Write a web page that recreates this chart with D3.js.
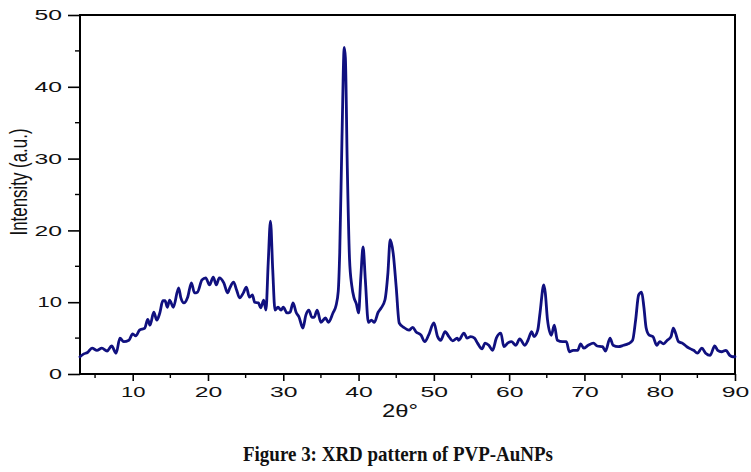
<!DOCTYPE html>
<html>
<head>
<meta charset="utf-8">
<script src="https://cdn.jsdelivr.net/npm/d3@7"></script>
<style>
  html, body { margin: 0; padding: 0; background: #fff; }
  svg { display: block; }
</style>
</head>
<body>
<svg id="chart" width="751" height="472"></svg>
<script>
const twoTheta = [3.0,3.5,4.0,4.6,5.25,5.9,6.6,7.2,7.8,8.3,8.8,9.5,10.0,10.4,10.9,11.6,12.0,12.3,12.8,13.2,13.6,14.0,14.3,14.6,14.9,15.4,16.1,16.4,16.8,17.3,17.8,18.2,18.6,19.2,19.7,20.2,20.7,21.1,21.5,22.1,22.6,22.9,23.4,23.8,24.2,24.7,25.1,25.5,25.9,26.2,26.7,27.0,27.4,27.7,28.0,28.3,28.6,28.9,29.3,29.7,30.0,30.5,30.9,31.3,31.7,32.1,32.6,33.0,33.4,33.8,34.1,34.5,35.0,35.6,36.0,36.6,37.0,37.3,37.5,37.8,38.1,38.25,38.5,38.8,39.1,39.4,39.7,40.0,40.3,40.6,40.9,41.3,41.7,42.1,42.6,43.0,43.5,43.9,44.2,44.6,45.0,45.4,46.0,46.7,47.2,47.6,48.3,48.8,49.3,50.0,50.5,50.9,51.5,52.0,52.5,53.1,53.3,54.0,54.4,54.9,55.4,55.8,56.4,56.8,57.3,57.8,58.3,58.9,59.3,59.8,60.3,60.9,61.4,62.1,62.5,63.0,63.3,63.8,64.1,64.6,64.8,65.1,65.6,66.0,66.4,67.1,67.6,68.0,68.5,69.1,69.5,69.9,70.5,71.2,71.7,72.4,72.8,73.4,73.8,74.5,75.2,75.8,76.4,76.8,77.2,77.6,77.9,78.2,78.6,79.1,79.6,80.0,80.5,81.0,81.5,81.8,82.1,82.5,83.0,83.6,84.1,84.5,85.0,85.6,86.1,86.7,87.3,87.7,88.2,88.8,89.3,89.7,90.0];
const intensity = [2.4,2.8,3.0,3.6,3.3,3.6,3.2,3.9,2.9,5.0,4.5,4.7,5.6,5.3,6.1,6.4,7.6,6.8,8.6,7.5,8.5,10.2,10.2,9.3,10.3,9.3,12.0,10.6,9.9,10.7,12.7,11.3,11.4,13.1,13.4,12.4,13.5,12.4,13.4,12.7,11.3,12.0,12.8,11.7,10.6,11.3,12.1,10.7,11.0,10.0,9.9,9.2,10.3,8.9,15.5,21.3,14.5,8.9,9.3,8.9,9.3,8.5,8.6,9.9,8.6,7.9,6.4,8.2,8.9,7.9,7.9,8.9,7.2,7.8,7.2,8.5,9.5,11.5,17.0,33.0,45.5,44.0,29.0,16.0,12.3,10.6,9.8,8.5,13.5,17.7,13.1,7.2,7.5,7.2,8.6,9.2,10.3,14.1,18.7,16.8,12.1,7.1,6.5,6.1,6.5,5.9,5.4,4.5,5.4,7.1,5.2,4.7,5.9,5.2,4.6,5.0,4.7,5.7,5.0,5.2,5.0,4.3,3.5,4.3,4.0,3.3,5.0,5.7,3.8,4.3,4.5,4.0,4.9,4.0,4.7,5.9,5.2,6.1,8.5,12.4,11.3,7.5,5.4,6.8,4.7,4.5,4.5,3.1,3.3,3.3,4.2,3.6,4.0,4.3,3.9,3.8,3.2,5.0,4.0,3.8,4.0,4.2,4.7,7.5,11.0,11.4,9.3,6.4,5.4,5.2,4.0,4.5,4.2,4.7,5.2,6.4,5.7,4.5,4.3,3.8,3.5,3.3,2.9,3.6,2.9,2.6,3.9,3.3,3.1,3.3,2.6,2.4,2.4];
const xTicks = [10,20,30,40,50,60,70,80,90];
const xMinorTicks = [5,15,25,35,45,55,65,75,85];
const yTicks = [0,10,20,30,40,50];
const yMinorTicks = [5,15,25,35,45];
const xLabel = "2θ°";
const yLabel = "Intensity (a.u.)";
const caption = "Figure 3: XRD pattern of PVP-AuNPs";

const svg = d3.select("#chart");
const L = 80, R = 735, T = 15, B = 374;
const x = d3.scaleLinear().domain([3, 90]).range([L, R]);
const y = d3.scaleLinear().domain([0, 50]).range([B, T]);
const tickFont = "'Liberation Sans', Arial, sans-serif";
// the reference artwork is stretched horizontally, so digits are wide
const labelWidth = s => s.split("").reduce((a, c) => a + (c === "1" ? 10 : 13), 0) + (s.length - 1) * 1.5;

function styleTickText(sel) {
  sel.attr("font-family", tickFont).attr("font-size", 14.5).attr("fill", "#111")
    .attr("textLength", function() { return labelWidth(this.textContent); })
    .attr("lengthAdjust", "spacingAndGlyphs");
}

// x axis
const gx = svg.append("g").attr("transform", `translate(0,${B})`);
gx.call(d3.axisBottom(x).tickValues(xTicks).tickSize(7).tickSizeOuter(0).tickPadding(6))
  .call(g => g.select(".domain").remove());
gx.selectAll("line").attr("stroke", "#000").attr("stroke-width", 1.6);
gx.selectAll("text").call(styleTickText);
gx.selectAll(".minor").data(xMinorTicks).enter().append("line")
  .attr("x1", d => x(d)).attr("x2", d => x(d)).attr("y1", 0).attr("y2", 4)
  .attr("stroke", "#000").attr("stroke-width", 1.4);

// y axis
const gy = svg.append("g").attr("transform", `translate(${L},0)`);
gy.call(d3.axisLeft(y).tickValues(yTicks).tickSize(12).tickSizeOuter(0).tickPadding(6))
  .call(g => g.select(".domain").remove());
gy.selectAll("line").attr("stroke", "#000").attr("stroke-width", 1.6);
gy.selectAll("text").call(styleTickText);
gy.selectAll(".minor").data(yMinorTicks).enter().append("line")
  .attr("x1", -5).attr("x2", 0).attr("y1", d => y(d)).attr("y2", d => y(d))
  .attr("stroke", "#000").attr("stroke-width", 1.4);

// frame
svg.append("rect").attr("x", L).attr("y", T).attr("width", R - L).attr("height", B - T)
  .attr("fill", "none").attr("stroke", "#000").attr("stroke-width", 2);

// data line
const pts = twoTheta.map((t, i) => [t, intensity[i]]);
svg.append("path").datum(pts)
  .attr("fill", "none").attr("stroke", "#10107f").attr("stroke-width", 2.8)
  .attr("stroke-linejoin", "round").attr("stroke-linecap", "round")
  .attr("d", d3.line().x(d => x(d[0])).y(d => y(d[1])).curve(d3.curveMonotoneX));

// labels
svg.append("text").attr("x", 400).attr("y", 417).attr("text-anchor", "middle")
  .attr("font-family", tickFont).attr("font-size", 19).attr("fill", "#111")
  .attr("textLength", 36).attr("lengthAdjust", "spacingAndGlyphs").text(xLabel);
svg.append("text").attr("transform", "translate(27,182) scale(1.5,1) rotate(-90)").attr("text-anchor", "middle")
  .attr("font-family", tickFont)
  .attr("font-size", 15.5).attr("fill", "#111")
  .attr("textLength", 107).attr("lengthAdjust", "spacingAndGlyphs").text(yLabel);
svg.append("text").attr("x", 398).attr("y", 461).attr("text-anchor", "middle")
  .attr("font-family", "'Liberation Serif', 'Times New Roman', serif").attr("font-weight", "bold")
  .attr("font-size", 21).attr("fill", "#111")
  .attr("textLength", 310).attr("lengthAdjust", "spacingAndGlyphs").text(caption);
</script>
</body>
</html>
